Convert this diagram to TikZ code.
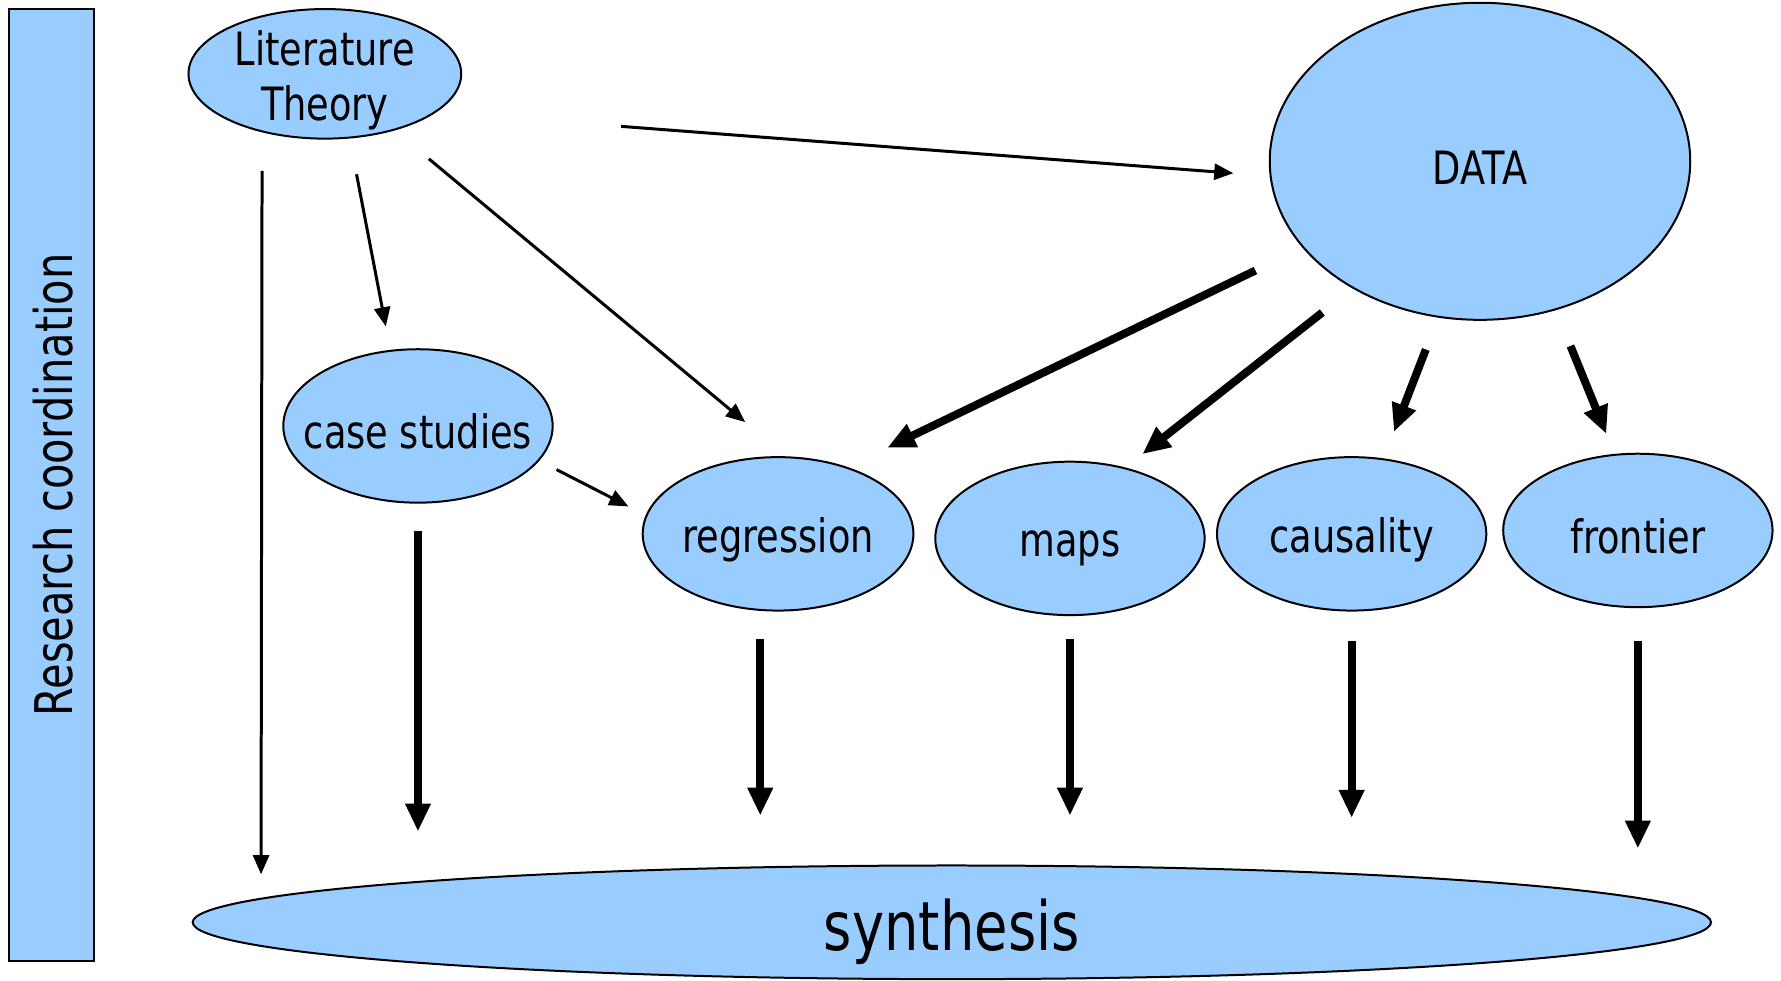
\documentclass[tikz,border=0pt]{standalone}
\usepackage{fontspec}
\setmainfont[FakeStretch=0.8]{DejaVu Sans}
\usepackage{tikz}
\usetikzlibrary{shapes.geometric}
\usetikzlibrary{arrows.meta}
\definecolor{bubble}{RGB}{153,204,255}

\begin{document}
\begin{tikzpicture}[x=0.01cm,y=-0.01cm,
    blob/.style={ellipse,draw,fill=bubble,line width=0.5pt,inner sep=0pt,align=center,
      text height=11.5pt,font=\fontsize{11.5}{12.2}\selectfont},
    thinarrow/.style={line width=0.75pt,-{Triangle[length=4.8pt,width=4pt]}},
    thickarrow/.style={line width=2pt,-{Triangle[length=7pt,width=6pt]}}]
      \useasboundingbox (0,0) rectangle (1568,863);

      % side bar
      \draw[fill=bubble,line width=0.6pt] (8,8) rectangle (83,846);
      \node (coord) [rotate=90,font=\fontsize{13}{15}\selectfont] at (47,427) {Research coordination};

      \node (lit) [blob,minimum width=2.40cm,minimum height=1.14cm,inner ysep=-4pt,text height=,
        font=\fontsize{11.5}{13.6}\selectfont] at (286,65) {\rule{0pt}{12pt}Literature\\Theory};
      \node (data) [blob,minimum width=3.70cm,minimum height=2.79cm] at (1303,142) {DATA};
      \node (case) [blob,minimum width=2.37cm,minimum height=1.35cm,inner xsep=-6pt] at (368,375) {case studies};
      \node (reg) [blob,minimum width=2.37cm,minimum height=1.35cm] at (685,470) {regression};
      \node (maps) [blob,minimum width=2.37cm,minimum height=1.35cm] at (942,474) {maps};
      \node (caus) [blob,minimum width=2.37cm,minimum height=1.35cm] at (1190,470) {causality};
      \node (front) [blob,minimum width=2.37cm,minimum height=1.35cm] at (1442,467) {frontier};
      \node (synth) [blob,minimum width=13.36cm,minimum height=1.00cm,text height=17.5pt,inner ysep=-3pt,
        font=\fontsize{17}{20}\selectfont] at (838,812) {synthesis};

      % from the literature
      \draw[thinarrow,shorten <=0.32cm,shorten >=0.21cm] (lit.-69) -- (case.110);
      \draw[thinarrow,shorten <=0.39cm,shorten >=0.47cm] (lit.-39) -- (reg.84);
      \draw[thinarrow,shorten <=1.63cm,shorten >=0.32cm] (lit.-19) -- (data.184);
      \draw[thinarrow,shorten <=0.34cm,shorten >=0.21cm] (lit.-137) -- (synth.178);
      \draw[thinarrow,shorten <=0.17cm,shorten >=0.17cm] (case.-16) -- (reg.172);

      % from the data
      \draw[thickarrow,shorten <=0.46cm,shorten >=0.39cm] (data.206) -- (reg.44);
      \draw[thickarrow,shorten <=0.34cm,shorten >=0.19cm] (data.225) -- (maps.52);
      \draw[thickarrow,shorten <=0.30cm,shorten >=0.25cm] (data.-105) -- (caus.67);
      \draw[thickarrow,shorten <=0.34cm,shorten >=0.19cm] (data.-63) -- (front.107);

      % down to the synthesis
      \draw[thickarrow,shorten <=0.24cm,shorten >=0.29cm] (case.south) -- (case.south |- synth.north);
      \draw[thickarrow,shorten <=0.25cm,shorten >=0.43cm] (reg.-103) -- (reg.-103 |- synth.north);
      \draw[thickarrow,shorten <=0.20cm,shorten >=0.43cm] (maps.south) -- (maps.south |- synth.north);
      \draw[thickarrow,shorten <=0.26cm,shorten >=0.41cm] (caus.south) -- (caus.south |- synth.north);
      \draw[thickarrow,shorten <=0.29cm,shorten >=0.14cm] (front.south) -- (front.south |- synth.north);
\end{tikzpicture}
\end{document}
